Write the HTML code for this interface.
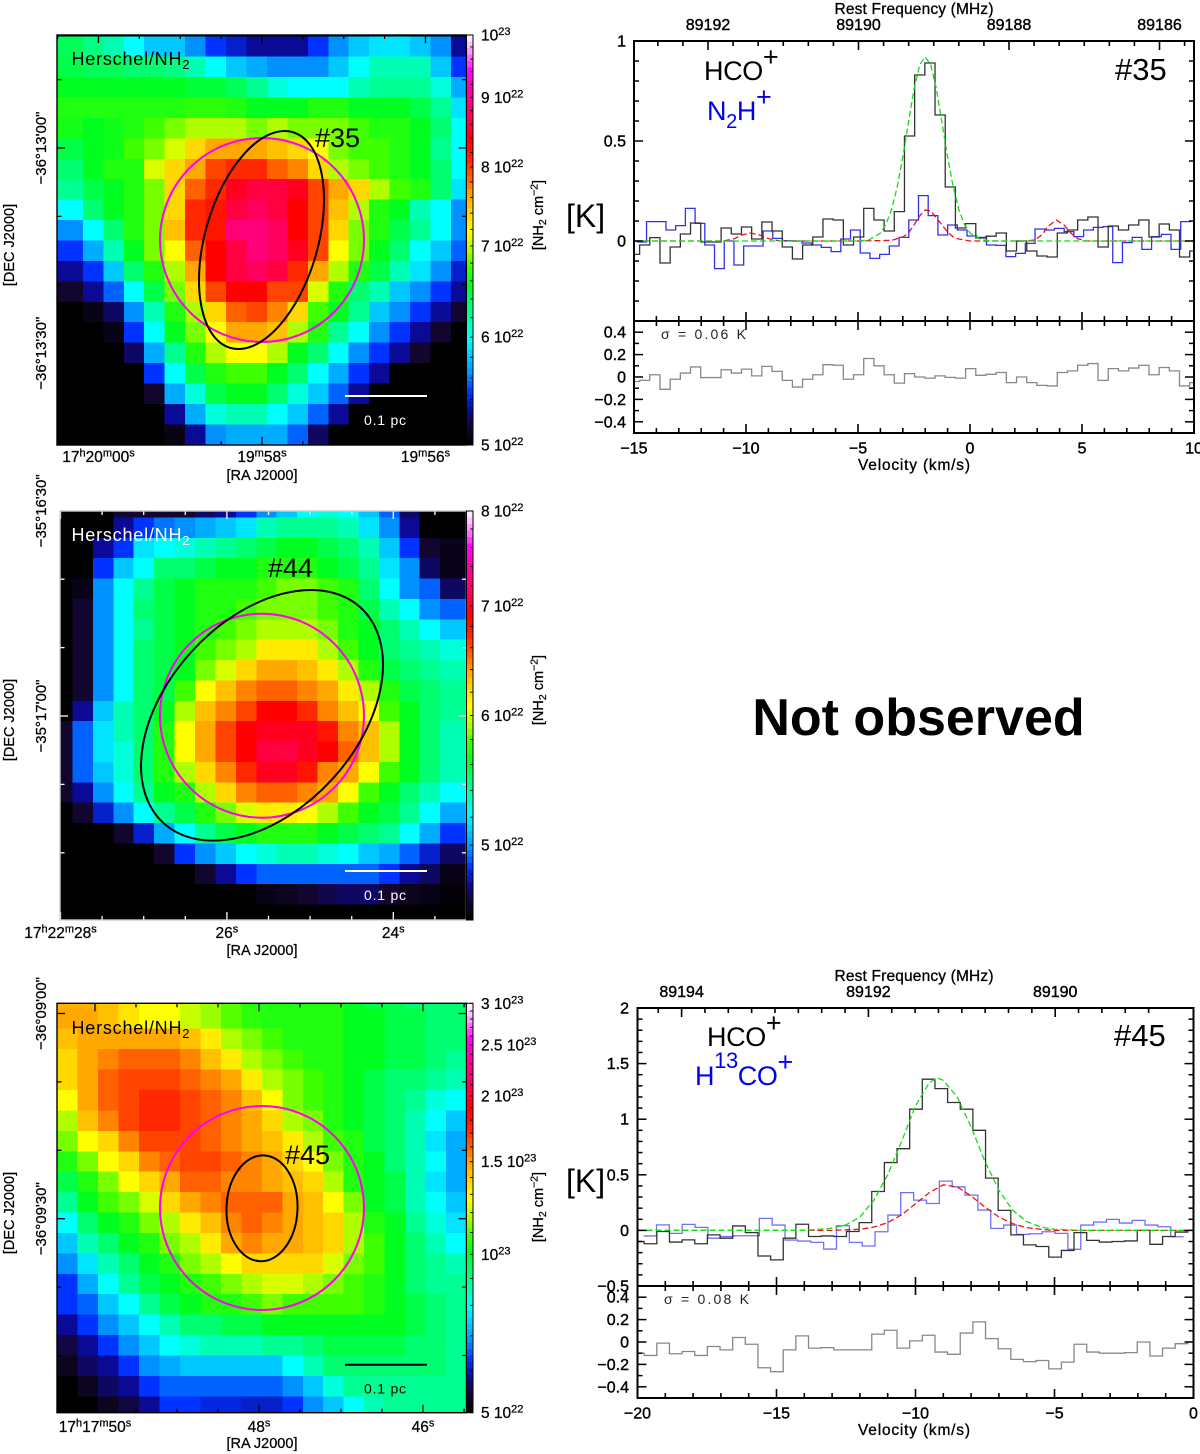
<!DOCTYPE html>
<html lang="en">
<head>
<meta charset="utf-8">
<title>Herschel NH2 maps and HCO+ spectra</title>
<style>
html,body{margin:0;padding:0;background:#fff}
svg{display:block;font-family:"Liberation Sans","DejaVu Sans",sans-serif;fill:#000;filter:blur(0.35px)}
</style>
</head>
<body>
<svg id="figure" xmlns="http://www.w3.org/2000/svg" width="1200" height="1454" viewBox="0 0 1200 1454">
<defs id="clips"></defs>
<g id="panel-35-map"></g>
<g id="panel-44-map"></g>
<g id="panel-45-map"></g>
<g id="panel-35-spec"></g>
<g id="panel-45-spec"></g>

<g>
<text x="704" y="80" font-size="27" letter-spacing="-0.4">HCO<tspan dy="-14">+</tspan></text>
<text x="707" y="120" font-size="27" letter-spacing="-0.4" fill="#0000ee">N<tspan dy="8" font-size="20">2</tspan><tspan dy="-8">H</tspan><tspan dy="-14">+</tspan></text>
<text x="1115" y="80" font-size="31">#35</text>
<text x="566" y="227" font-size="32">[K]</text>
<text x="661" y="339" font-size="14" textLength="85" fill="#222">σ = 0.06 K</text>
</g>
<g>
<text x="707" y="1046" font-size="27" letter-spacing="-0.4">HCO<tspan dy="-14">+</tspan></text>
<text x="695" y="1085" font-size="27" letter-spacing="-0.4" fill="#0000ee">H<tspan dy="-17" font-size="22">13</tspan><tspan dy="17">CO</tspan><tspan dy="-14">+</tspan></text>
<text x="1114" y="1046" font-size="31">#45</text>
<text x="566" y="1192" font-size="32">[K]</text>
<text x="664" y="1304" font-size="14" textLength="85" fill="#222">σ = 0.08 K</text>
</g>
<text x="918.5" y="735" font-size="52" font-weight="bold" text-anchor="middle">Not observed</text>
</svg>

<script>
// ---------- column density maps (colour levels, row by row, top to bottom) ----------
const map35Rows = [
[8.3,7.7,7,6,5,5,4,3,2.5,2,2,2,3,4,5,5.5,5.5,5,4,2],
[8.5,8.3,8.3,8,8,7.7,7,6,5,4.5,4,4,4,5,6,7,7,7,5,3],
[9,9,9,9,9,9,8.7,8.7,8.3,7.5,6.5,6,6,6,7,7.5,7.5,7.5,6.5,4.5],
[9.5,9.5,9.5,9.5,9.5,9.5,9.7,9.7,9.5,9,9,9,9.5,9.5,9,9,9,8.5,7.5,5.5],
[9.3,9,9.2,9.5,10,10.5,11,11,11,10.5,11,10.5,10.5,10.5,10,9.5,9.5,9,8,6],
[8.5,9,9.2,10,10.5,11.5,13,14,14,14,13.5,13,12,10.5,10,10,9.5,9,7.5,6],
[8,9,9.5,9.5,11.5,13,14,15.5,16,16,15,14.5,13,11,10.5,10,9.5,9,8,6],
[7.5,8.5,9,9.5,10.5,13,15,16,17.5,18,18,17.5,15.5,14,13,11,10,9.5,8,5.5],
[6,8,9,9.5,10.5,13,16,16.5,18,18.5,18,17,15.5,13.5,11,9.5,9,7,6,4],
[4,6,8,9.5,10.5,13.5,16,16.5,19,19,18.5,17,15.5,13,10.5,9.5,8.5,7.5,6,4],
[3,4.5,7,9,10.5,12,15,17,18,19,18.5,17.5,15.5,12,10.5,9,8,6,5,3.5],
[2,3,5,8,9.5,11,14,17,18,18.5,18,16,14,11,9.5,8.5,7,5.5,4,2.5],
[1,2,3.5,6,8.5,10.5,13,15.5,17,17,15.5,15.5,11.5,9.5,8,7,5,4,3,2],
[0,0.5,1.5,4,7,9.5,11,13,15,15.5,14.5,13,10,9,7.5,5,4,3,2,1],
[0,0,0.5,3,6,9,10.5,12,14,14,13.5,11,9.5,7.5,6,4,3,2,1,0],
[0,0,0,1.5,4.5,7.5,9.5,11,12,12,11,9,8,6,4,3,2,1,0,0],
[0,0,0,0,3,6,8.5,9.5,10,10,9,8,6,4.5,3,2,0,0,0,0],
[0,0,0,0,1,4.5,6.5,8.5,9,9,8,6.5,5,3.5,2,0,0,0,0,0],
[0,0,0,0,0,2,4.5,6.5,7,7,6,5,3.5,2,0,0,0,0,0,0],
[0,0,0,0,0,0.5,2,4,4.5,4.5,4.5,3.5,1.5,0,0,0,0,0,0,0]
];
const map44Rows = [
[0,0,0,1,1,1,1,1.5,2,3,4,5,6,6.5,6,5,3.5,1.5,0,0],
[0,0,0,2,3,3.7,4,4.5,5,5.5,7,7.5,7.5,7.5,7,5.5,4,2,0,0],
[0,0,2,3,5.5,6,6.5,7,7.5,8,8.5,9,9,8.5,8,7,5,3,1,0.5],
[0,0,3,5,6,8,8,8.5,9,9,9.5,9.5,9.5,9,8.5,7.5,5.5,4,1.5,0.5],
[0,0.5,4,6,7.5,8.5,9,9.5,9.5,9.5,10,10.5,10.5,10,9.5,8,6,4,3.5,1.5],
[0,1,4,6,8,8.5,9,9.5,9.5,10,10.5,10.5,10.5,10,9.5,8.5,7,6,4,3.5],
[0,1,4,6,7.5,8.5,9,9.5,10,10.5,11,11,11,10.5,9.5,9,8,7,6,5],
[0,1,4,6,8,8.5,9,10,10.5,11,12.5,12.5,12.5,11,10,9,8,7.5,7,6.5],
[0,1,4,6,8,8.5,9,10.5,11.5,13,14,14,13.5,12.5,11,9.5,8.5,8,7.5,7],
[0,1,4,6,8,8.5,10,12,13.5,14.5,15,15,14.5,14,12.5,11,9.5,8.5,8,7.5],
[0,2,5,7,8,9,11,13.5,14.5,15.5,17,17,16,14.5,13.5,12,10,9,8,7.5],
[1,3.5,5.5,7,8,9.5,12,14,15.5,17,17.5,17.5,17.5,16.5,14.5,13.5,11,9,8,7],
[1,3.5,5.5,6.5,8,9.5,12,14,15.5,17,18,18,17.5,17,15,13.5,11,9,8,7],
[1,3.5,5,6.5,8,9.5,11,13,14.5,16,17.5,17.5,16.5,14.5,14,12,10,9,8,7],
[1,2,4,6,7.5,9,9.5,11,13,14.5,15,15,14.5,14,12,10,9,8,7,6],
[0,1,2.5,4,6,7.5,8.5,9.5,10.5,11.5,12.5,12.5,12,11,10,9,8.5,7.5,6,4.5],
[0,0,0,1,2.5,4.5,6,7.5,8.5,9,9.5,9.5,9.5,9,8.5,8,7.5,6,4.5,3],
[0,0,0,0,0,1,3,4,5,6,6.5,7,7,6.5,6,5,4.5,3.5,2.5,1.5],
[0,0,0,0,0,0,0,1,2,3,3.5,3.5,3.5,3.5,3.5,3.5,3,2,1.5,0.5],
[0,0,0,0,0,0,0,0,0,0,0.5,0.7,1,1.3,1.5,1.5,1,0.7,0.5,0.2],
[0,0,0,0,0,0,0,0,0,0,0,0,0,0,0,0,0,0,0,0]
];
const map45Rows = [
[13.8,13.8,13.5,12.7,12,12,11.3,10.8,10.2,9.5,9.5,9.5,9.5,9.5,9,8.5,8.5,8,8,8],
[14,14,13.5,12.7,12,12,11.3,10.8,10.2,9.7,9.5,9.5,9.5,9.5,9,9,8.5,8.5,8,8],
[13.5,14,14,14,14,14,13.5,12.5,11,10.5,10,9.5,9.5,9.5,9,9,8.5,8.5,8,8],
[13,14,14.5,15,15,15,14.5,13.5,12.5,11,10.5,10,9.5,9.5,9,9,8.5,8.5,8,7.5],
[13,14,15,15.5,15.5,15.5,15,14.5,14,12.5,11,10.5,10,9.5,9,8.5,8,8,7.5,7],
[12,14,15,15.5,16,16,15.5,15,14.5,13.5,12,10.5,10,9.5,9,8.5,8,7.5,6.5,6],
[11,13.5,14.5,15.5,16,16,15.5,15,14.5,14,13,11,10.5,9.5,9,8.5,8,7,6,5],
[10.5,12,13,14.5,15.5,15.5,15.5,15,14.5,14,13.5,12.5,11,10,9.5,8.5,8,7,5.5,4.5],
[9.5,10.5,12,13,14.5,15,15.5,15.5,15,14.5,14,13,12,10.5,9.5,9,8,7,6,4.5],
[8.5,9.5,10.5,12,13,14,15,15,14.5,14.5,14,13.5,13,11,9.5,9,8.5,7,5.5,4.5],
[7.5,9,10,10.5,11.5,13,14,14.5,15,15,15,14,13.5,12,10.5,9,8.5,7,6,5],
[6,8,9,9.5,10.5,11,12.5,13.5,14.5,15,14.5,14,13.5,13,11,9.5,9,7.5,6.5,5.5],
[5,7,8,9,9.5,10.5,11,12.5,14,14.5,14,14,13.5,13,11,10,9,8,7,6],
[4,5.5,7,8,9,9.5,10.5,11,12,13,13,13,13,11.5,10.5,10,9,8,7.5,7],
[3,4.5,6,7.5,8.5,9,9.5,10,10.5,11,11.5,11.5,11,10.5,10,9.5,9,8,7.5,7.5],
[3,3.5,5,6,7.5,8.5,9,9.5,9.5,10,10.5,10,10,10,10,9.5,9,8.5,8,7.5],
[2,3,4,5,6,7,8,8,8.5,8.5,9,9,9,9,9,9,9,8.5,8,7.5],
[1.2,2,3,4,5,6,6.5,7,7,7,7.5,7.5,8,8.5,8.5,8.5,8.5,8,8,7.5],
[0.7,1.5,2,3,4,4.5,5,5,5,5,5,6,7,8,8,8,8,8,8,7.5],
[0,0.7,1.5,2,3,3.5,3.5,3.5,3.5,3.5,3.5,4,5,6.5,7.5,7.5,7.5,7.5,7.5,7.5],
[0,0,0.7,1.2,2,3,3,2.7,2.7,2.5,2.5,3,4,5,6,7,7.5,7.5,7.5,7.5]
];
const levelColors = ['#000000','#12062e','#0a0a96','#0033ff','#0090ff','#00c8ff','#00ffff','#00ffb4','#00ff70','#00ff20','#40ff00','#b0ff00','#ffff00','#ffd800','#ffa800','#ff6000','#ff2800','#ff0000','#ff0040','#ff0078','#ff00a8','#ff00ff','#ff90ff','#ffffff'];

// colour bar labels (units of 1e22 cm-2)
const cbar35Values = [5,6,7,8,9,10];
const cbar35Prefix = ['5 10','6 10','7 10','8 10','9 10','10'];
const cbar35Exp = ['22','22','22','22','22','23'];
const cbar44Values = [5,6,7,8];
const cbar44Prefix = ['5 10','6 10','7 10','8 10'];
const cbar44Exp = ['22','22','22','22'];
const cbar45Values = [5,10,15,20,25,30];
const cbar45Prefix = ['5 10','10','1.5 10','2 10','2.5 10','3 10'];
const cbar45Exp = ['22','23','23','23','23','23'];

// sky axes: RA seconds and Dec arcsecond offsets
const ra35Ticks = [60,58,56];
const ra35Labels = [['17','h','20','m','00','s'],['19','m','58','s'],['19','m','56','s']];
const ra44Ticks = [28,26,24];
const ra44Labels = [['17','h','22','m','28','s'],['26','s'],['24','s']];
const ra45Ticks = [50,48,46];
const ra45Labels = [['17','h','17','m','50','s'],['48','s'],['46','s']];
const dec35Ticks = [0,30];
const dec35Labels = ['−36°13\'00"','−36°13\'30"'];
const dec44Ticks = [-30,0];
const dec44Labels = ['−35°16\'30"','−35°17\'00"'];
const dec45Ticks = [-30,0];
const dec45Labels = ['−36°09\'00"','−36°09\'30"'];

// ---------- spectra, source 35 ----------
const hco35Values = [-.067,-.02,.017,-.11,-.03,.035,.09,-.005,-.005,.065,.035,.07,.01,.095,.05,-.03,-.09,-.02,.02,.11,.105,-.02,.02,.163,.105,.05,.147,.525,.83,.89,.63,.27,.065,.087,.015,.024,.04,-.05,0,-.05,-.075,-.08,.04,.055,.105,.12,-.03,.075,.055,.08,.105,.02,.085,.055,-.08,-.05];
const n2h35Values = [-.005,.097,.097,.055,.077,.163,.088,-.02,-.138,0,-.12,-.025,-.025,.05,.013,.002,0,-.01,-.02,-.032,-.053,.01,.055,-.06,-.087,-.067,-.025,.018,.105,.227,.127,.03,.08,.055,.025,.018,-.02,-.022,-.078,-.062,-.012,.06,.055,.063,.047,.022,.055,.068,.072,-.108,-.008,.018,-.042,.022,.033,-.042,.097];
const residual35Values = [-.04,-.03,.02,-.11,-.02,.035,.09,-.005,-.005,.065,.035,.07,.01,.095,.05,-.03,-.09,-.02,.02,.11,.105,-.02,.02,.165,.1,.02,-.055,.03,0,-.01,.01,-.003,-.01,.075,.015,.024,.04,-.05,0,-.05,-.075,-.08,.04,.055,.105,.12,-.03,.075,.055,.08,.105,.02,.085,.055,-.08,-.05];
const greenFit35V = [-15,-5,-4.5,-4,-3.75,-3.5,-3.25,-3,-2.75,-2.5,-2.25,-2,-1.75,-1.5,-1.25,-1,-.75,-.5,-.25,0,.5,1,10];
const greenFit35T = [0,0,.006,.04,.084,.158,.27,.42,.59,.76,.88,.92,.88,.76,.59,.42,.27,.158,.084,.04,.006,0,0];
const redFit35V = [-15,-11,-10.5,-10.2,-9.8,-9.4,-9,-8.5,-5,-3.5,-3,-2.75,-2.5,-2.25,-2,-1.75,-1.5,-1.25,-1,-.75,-.5,0,2.5,2.9,3.2,3.5,3.85,4.2,4.5,4.8,5.2,10];
const redFit35T = [0,0,.012,.03,.04,.03,.012,0,0,.003,.02,.04,.08,.125,.155,.15,.115,.08,.045,.02,.01,0,0,.005,.03,.075,.105,.08,.04,.012,0,0];
const vel35Labels = [-15,-10,-5,0,5,10];
const temp35Labels = [0,.5,1];
const freq35Labels = [89192,89190,89188,89186];

// ---------- spectra, source 45 ----------
const hco45Values = [-.1,-.12,-.01,-.105,-.085,-.12,-.04,-.07,.04,-.02,-.23,-.265,-.07,.055,-.055,-.05,-.055,-.01,.07,.35,.61,.735,1.09,1.36,1.275,1.15,1.09,.9,.47,.18,-.04,-.13,-.145,-.24,-.18,-.02,-.09,-.105,-.1,-.095,0,-.125,-.055,-.015,0];
const h13co45Values = [-.05,.05,-.027,.054,.027,-.07,-.055,-.048,-.048,.108,.048,-.087,-.096,-.108,-.168,.042,-.108,-.14,-.012,.138,.34,.272,.242,.443,.392,.317,.183,.018,.048,-.036,-.03,-.012,-.027,-.17,.048,.075,.099,.066,.09,.048,.033,-.057];
const residual45Values = [-.1,-.12,-.01,-.105,-.085,-.12,-.04,-.07,.04,-.02,-.23,-.265,-.07,.055,-.055,-.05,-.07,-.07,-.07,.07,.105,-.055,.01,.06,-.09,-.11,.08,.18,.03,-.06,-.155,-.175,-.165,-.24,-.18,-.02,-.09,-.1,-.1,-.095,0,-.125,-.055,-.015,0];
const greenFit45V = [-20,-14,-13,-12.5,-12,-11.5,-11,-10.5,-10,-9.5,-9.2,-9,-8.5,-8,-7.5,-7,-6.5,-6,-5.5,-5,-4,0];
const greenFit45T = [0,0,.02,.05,.12,.27,.5,.8,1.12,1.33,1.37,1.35,1.2,.93,.62,.36,.18,.08,.03,.01,0,0];
const redFit45V = [-20,-13,-12,-11.5,-11,-10.5,-10,-9.5,-9,-8.5,-8,-7.5,-7,-6.5,-6,-5.5,-5,0];
const redFit45T = [0,0,.01,.03,.07,.14,.24,.34,.41,.39,.31,.21,.12,.06,.025,.01,0,0];
const vel45Labels = [-20,-15,-10,-5,0];
const temp45Labels = [-.5,0,.5,1,1.5,2];
const freq45Labels = [89194,89192,89190];
const residualLabels = [-.4,-.2,0,.2,.4];

// ---------- helpers ----------
const NS = 'http://www.w3.org/2000/svg';
function make(tag, parent, attrs) {
  const el = document.createElementNS(NS, tag);
  for (const k in attrs) el.setAttribute(k, attrs[k]);
  parent.appendChild(el);
  return el;
}
function hexToRgb(h) { return [1,3,5].map(i => parseInt(h.substr(i,2),16)); }
function levelColor(l) {
  const lo = Math.max(0, Math.min(levelColors.length-1, Math.floor(l)));
  const hi = Math.min(levelColors.length-1, lo+1);
  const t = l-lo, a = hexToRgb(levelColors[lo]), b = hexToRgb(levelColors[hi]);
  return 'rgb(' + a.map((c,i) => Math.round(c+(b[i]-c)*t)).join(',') + ')';
}
function tickRange(a, b, step) {
  const out = [];
  const n = Math.round((b-a)/step);
  for (let i = 0; i <= n; i++) out.push(a+i*step);
  return out;
}
function fmt(v) {
  const s = String(Math.round(v*100)/100);
  return v < 0 ? '−' + s.slice(1) : s;
}
function stepPath(values, start, width, x, y) {
  let d = '';
  values.forEach((val, k) => {
    const yy = y(val).toFixed(2);
    d += (k ? 'L' : 'M') + x(start+k*width).toFixed(2) + ' ' + yy + 'L' + x(start+(k+1)*width).toFixed(2) + ' ' + yy;
  });
  return d;
}
function linePath(vs, ts, x, y) {
  return vs.map((v,i) => (i ? 'L' : 'M') + x(v).toFixed(2) + ' ' + y(ts[i]).toFixed(2)).join('');
}
function addSuperscripts(textEl, parts) {
  parts.forEach((part, i) => {
    const sup = i % 2 === 1;
    const span = make('tspan', textEl, { 'font-size': sup ? 11 : 15.5, dy: sup ? -5.5 : (i ? 5.5 : 0) });
    span.textContent = part;
  });
}

// ---------- map panel ----------
function drawMap(c) {
  const g = document.getElementById(c.id);
  const clip = make('clipPath', document.getElementById('clips'), { id: c.id + '-clip' });
  make('rect', clip, { x: c.left, y: c.top, width: c.right-c.left, height: c.bottom-c.top });

  const bg = make('rect', g, { x: c.left, y: c.top, width: c.right-c.left, height: c.bottom-c.top, fill: '#000' });
  
  

  const cells = make('g', g, { 'clip-path': 'url(#' + c.id + '-clip)', 'shape-rendering': 'crispEdges' });
  
  
  const nCols = c.rows[0].length, nRows = c.rows.length;
  c.rows.forEach((row, r) => row.forEach((level, q) => {
    const x0 = q === 0 ? c.left-2 : c.gridLeft+q*c.cw;
    const x1 = q === nCols-1 ? c.right+2 : c.gridLeft+(q+1)*c.cw;
    const y0 = c.gridTop+r*c.ch;
    const y1 = r === nRows-1 ? c.bottom+2 : y0+c.ch;
    const cell = make('rect', cells, { x: x0.toFixed(2), y: y0.toFixed(2), width: (x1-x0+0.4).toFixed(2), height: (y1-y0+0.4).toFixed(2), fill: levelColor(level) });
    
    
  }));

  // sky axes
  const raX = s => c.raX0 + (c.raS0-s)*c.raPx;
  const decY = a => c.decY0 + a*c.decPx;
  const tickColor = c.tickColor;
  tickRange(c.raMinor[0], c.raMinor[1], 0.5).forEach(s => {
    const x = raX(s);
    if (x < c.left || x > c.right) return;
    const len = Math.abs(s/2-Math.round(s/2)) < 1e-6 ? 8 : 4;
    [[c.bottom,c.bottom-len],[c.top,c.top+len]].forEach(p => {
      const t = make('line', g, { x1: x, x2: x, y1: p[0], y2: p[1], stroke: tickColor, 'stroke-width': 1.3 });
      
      
    });
  });
  tickRange(c.decMinor[0], c.decMinor[1], 10).forEach(a => {
    const y = decY(a);
    if (y < c.top || y > c.bottom) return;
    const len = Math.abs(a/30-Math.round(a/30)) < 1e-6 ? 8 : 4.5;
    [[c.left,c.left+len],[c.right,c.right-len]].forEach(p => {
      const t = make('line', g, { x1: p[0], x2: p[1], y1: y, y2: y, stroke: tickColor, 'stroke-width': 1.3 });
      
      
    });
  });
  const frame = make('rect', g, { x: c.left, y: c.top, width: c.right-c.left, height: c.bottom-c.top, fill: 'none', stroke: c.frameColor, 'stroke-width': 1.4 });
  
  

  c.raTicks.forEach((s, i) => {
    const label = make('text', g, { x: raX(s), y: c.raLabelY, 'text-anchor': 'middle', stroke: '#000', 'stroke-width': 0.25 });
    
    
    addSuperscripts(label, c.raLabels[i]);
  });
  c.decTicks.forEach((a, i) => {
    const y = decY(a);
    const label = make('text', g, { x: 46, y: y, 'font-size': 15, 'text-anchor': 'middle', stroke: '#000', 'stroke-width': 0.25, transform: 'rotate(-90 46 ' + y + ')' });
    
    
    label.textContent = c.decLabels[i];
  });
  const raTitle = make('text', g, { x: 262, y: c.raTitleY, 'font-size': 14.5, 'text-anchor': 'middle', stroke: '#000', 'stroke-width': 0.25 });
  
  
  raTitle.textContent = '[RA J2000]';
  const decTitle = make('text', g, { x: 14, y: c.decTitleY, 'font-size': 14.5, 'text-anchor': 'middle', stroke: '#000', 'stroke-width': 0.25, transform: 'rotate(-90 14 ' + c.decTitleY + ')' });
  
  
  decTitle.textContent = '[DEC J2000]';

  // colour bar
  const barY = v => c.top + (c.bottom-c.top)*Math.log(c.vMax/v)/Math.log(c.vMax/c.vMin);
  const nBands = 64;
  for (let i = 0; i < nBands; i++) {
    const h = (c.bottom-c.top)/nBands;
    const band = make('rect', g, { x: c.right, y: (c.bottom-(i+1)*h).toFixed(2), width: 6.5, height: (h+0.3).toFixed(2), fill: levelColor((i+0.5)/nBands*23), 'shape-rendering': 'crispEdges' });
    
    
  }
  const barFrame = make('rect', g, { x: c.right, y: c.top, width: 6.5, height: c.bottom-c.top, fill: 'none', stroke: '#000', 'stroke-width': 1 });
  
  
  tickRange(c.vMinorStart, c.vMax, c.vMinorStep).forEach(v => {
    const t = make('line', g, { x1: c.right+6.5, x2: c.right+3.5, y1: barY(v), y2: barY(v), stroke: '#000', 'stroke-width': 0.9 });
    
    
  });
  c.barValues.forEach((v, i) => {
    const label = make('text', g, { x: 481, y: barY(v)+5.5, stroke: '#000', 'stroke-width': 0.25 });
    
    
    addSuperscripts(label, [c.barPrefix[i], c.barExp[i]]);
  });
  const barTitle = make('text', g, { x: 543, y: c.barTitleY, 'font-size': 14.5, 'text-anchor': 'middle', stroke: '#000', 'stroke-width': 0.25, transform: 'rotate(-90 543 ' + c.barTitleY + ')' });
  
  
  barTitle.textContent = '[NH';
  const sub = make('tspan', barTitle, { 'font-size': 10.5, dy: 3 });
  sub.textContent = '2';
  const cm = make('tspan', barTitle, { dy: -3 });
  cm.textContent = ' cm';
  const exp = make('tspan', barTitle, { 'font-size': 10.5, dy: -5.5 });
  exp.textContent = '−2';
  const close = make('tspan', barTitle, { dy: 5.5 });
  close.textContent = ']';

  // overlays
  const circle = make('circle', g, { cx: 262, cy: c.circleY, r: 102, fill: 'none', stroke: '#ff00f0', 'stroke-width': 2 });
  
  
  const ell = make('ellipse', g, { cx: c.ell[0], cy: c.ell[1], rx: c.ell[2], ry: c.ell[3], fill: 'none', stroke: '#000', 'stroke-width': 2, transform: 'rotate(' + c.ell[4] + ' ' + c.ell[0] + ' ' + c.ell[1] + ')' });
  
  

  const ident = make('text', g, { x: c.idPos[0], y: c.idPos[1], 'font-size': 27 });
  
  
  ident.textContent = c.idText;

  const title = make('text', g, { x: 71.5, y: c.titleY, 'font-size': 18, fill: c.titleColor, textLength: 118 });
  
  
  title.textContent = 'Herschel/NH';
  const titleSub = make('tspan', title, { 'font-size': 13, dy: 4 });
  titleSub.textContent = '2';

  const bar = make('line', g, { x1: 345, x2: 427, y1: c.scaleY, y2: c.scaleY, stroke: c.scaleColor, 'stroke-width': 2 });
  
  
  const barText = make('text', g, { x: 385, y: c.scaleY+29, 'font-size': 14, 'text-anchor': 'middle', fill: c.scaleColor, textLength: 42 });
  
  
  barText.textContent = '0.1 pc';
}

// ---------- spectrum panel ----------
function drawSpectrum(c) {
  const g = document.getElementById(c.id);
  const x = v => c.left + (v-c.vMin)*(c.right-c.left)/(c.vMax-c.vMin);
  const yUp = t => c.top + (c.tTop-t)*(c.split-c.top)/(c.tTop-c.tBot);
  const yLow = r => c.split + (0.5-r)*(c.bottom-c.split);
  const fx = f => c.freqX0 + (c.freqF0-f)*c.freqPx;

  const clipClips = document.getElementById('clips');
  const upClip = make('clipPath', clipClips, { id: c.id + '-up' });
  make('rect', upClip, { x: c.left, y: c.top, width: c.right-c.left, height: c.split-c.top });
  const lowClip = make('clipPath', clipClips, { id: c.id + '-low' });
  make('rect', lowClip, { x: c.left, y: c.split, width: c.right-c.left, height: c.bottom-c.split });

  const up = make('g', g, { 'clip-path': 'url(#' + c.id + '-up)', fill: 'none' });
  
  
  const second = make('path', up, { d: stepPath(c.secondValues, c.secondStart, c.secondWidth, x, yUp), stroke: c.secondColor, 'stroke-width': 1.3 });
  
  
  const hco = make('path', up, { d: stepPath(c.hcoValues, c.hcoStart, c.hcoWidth, x, yUp), stroke: '#333', 'stroke-width': 1.3 });
  
  
  const red = make('path', up, { d: linePath(c.redV, c.redT, x, yUp), stroke: '#f01010', 'stroke-width': 1.3, 'stroke-dasharray': '6 3' });
  
  
  const green = make('path', up, { d: linePath(c.greenV, c.greenT, x, yUp), stroke: '#10e010', 'stroke-width': 1.3, 'stroke-dasharray': '6 3' });
  
  

  const low = make('g', g, { 'clip-path': 'url(#' + c.id + '-low)', fill: 'none' });
  
  
  const res = make('path', low, { d: stepPath(c.residualValues, c.hcoStart, c.hcoWidth, x, yLow), stroke: '#888', 'stroke-width': 1.3 });
  
  

  // frames
  [[c.top,c.split],[c.split,c.bottom]].forEach(p => {
    const f = make('rect', g, { x: c.left, y: p[0], width: c.right-c.left, height: p[1]-p[0], fill: 'none', stroke: '#000', 'stroke-width': 2 });
    
    
  });

  // velocity ticks
  tickRange(c.vMin, c.vMax, 1).forEach(v => {
    const major = Math.abs(v/5-Math.round(v/5)) < 1e-6;
    const len = major ? 9 : 5;
    [[c.split,c.split-len],[c.split,c.split+len],[c.bottom,c.bottom-len]].forEach(p => {
      const t = make('line', g, { x1: x(v), x2: x(v), y1: p[0], y2: p[1], stroke: '#000', 'stroke-width': 1.6 });
      
      
    });
  });
  // frequency ticks
  tickRange(c.freqMin, c.freqMax, c.freqMinor).forEach(f => {
    const px = fx(f);
    if (px < c.left || px > c.right) return;
    const major = Math.abs(f/2-Math.round(f/2)) < 1e-6;
    const t = make('line', g, { x1: px, x2: px, y1: c.top, y2: c.top+(major ? 9 : 5), stroke: '#000', 'stroke-width': 1.6 });
    
    
  });
  // temperature ticks
  tickRange(c.tBot, c.tTop, 0.1).forEach(t0 => {
    const major = Math.abs(t0/0.5-Math.round(t0/0.5)) < 1e-6;
    const len = major ? 9 : 5;
    [[c.left,c.left+len],[c.right,c.right-len]].forEach(p => {
      const t = make('line', g, { x1: p[0], x2: p[1], y1: yUp(t0), y2: yUp(t0), stroke: '#000', 'stroke-width': 1.5 });
      
      
    });
  });
  tickRange(-0.5, 0.5, 0.1).forEach(r0 => {
    const major = Math.abs(r0/0.2-Math.round(r0/0.2)) < 1e-6;
    const len = major ? 9 : 5;
    [[c.left,c.left+len],[c.right,c.right-len]].forEach(p => {
      const t = make('line', g, { x1: p[0], x2: p[1], y1: yLow(r0), y2: yLow(r0), stroke: '#000', 'stroke-width': 1.5 });
      
      
    });
  });

  // labels
  c.velLabels.forEach(v => {
    const l = make('text', g, { x: x(v), y: c.bottom+20.5, 'font-size': 16, 'text-anchor': 'middle', stroke: '#000', 'stroke-width': 0.4 });
    
    
    l.textContent = fmt(v);
  });
  c.freqLabels.forEach(f => {
    const l = make('text', g, { x: fx(f), y: c.top-11, 'font-size': 16, 'text-anchor': 'middle', stroke: '#000', 'stroke-width': 0.4 });
    
    
    l.textContent = f;
  });
  c.tempLabels.forEach(t0 => {
    const l = make('text', g, { x: c.labelRight, y: yUp(t0)+5.5, 'font-size': 16, 'text-anchor': 'end', stroke: '#000', 'stroke-width': 0.4 });
    
    
    l.textContent = fmt(t0);
  });
  residualLabels.forEach(r0 => {
    const l = make('text', g, { x: c.labelRight, y: yLow(r0)+5.5, 'font-size': 16, 'text-anchor': 'end', stroke: '#000', 'stroke-width': 0.4 });
    
    
    l.textContent = fmt(r0);
  });
  const velTitle = make('text', g, { x: 914, y: c.bottom+37, 'font-size': 15.5, 'text-anchor': 'middle', textLength: 112, stroke: '#000', 'stroke-width': 0.3 });
  
  
  velTitle.textContent = 'Velocity (km/s)';
  const freqTitle = make('text', g, { x: 914, y: c.top-27, 'font-size': 15.5, 'text-anchor': 'middle', textLength: 159, stroke: '#000', 'stroke-width': 0.3 });
  
  
  freqTitle.textContent = 'Rest Frequency (MHz)';
}

drawMap({
  id: 'panel-35-map', rows: map35Rows, left: 57, right: 466.5, top: 35, bottom: 445,
  gridLeft: 62.4, gridTop: 36.3, cw: 20.45, ch: 20.42,
  raX0: 262, raS0: 58, raPx: 81.75, raMinor: [55, 61], raTicks: ra35Ticks, raLabels: ra35Labels, raLabelY: 462, raTitleY: 480,
  decY0: 148, decPx: 6.84, decMinor: [-20, 50], decTicks: dec35Ticks, decLabels: dec35Labels, decTitleY: 245,
  tickColor: '#000', frameColor: '#000',
  vMin: 5, vMax: 10, vMinorStart: 5, vMinorStep: 0.2, barValues: cbar35Values, barPrefix: cbar35Prefix, barExp: cbar35Exp, barTitleY: 215,
  circleY: 240, ell: [261.5, 240, 56.4, 112.3, 16.1], idPos: [315, 147], idText: '#35',
  titleY: 65, titleColor: '#000', scaleY: 396, scaleColor: '#fff'
});
drawMap({
  id: 'panel-44-map', rows: map44Rows, left: 60, right: 466.5, top: 511, bottom: 920,
  gridLeft: 52, gridTop: 497, cw: 20.43, ch: 20.38,
  raX0: 60.5, raS0: 28, raPx: 83.2, raMinor: [23, 28.5], raTicks: ra44Ticks, raLabels: ra44Labels, raLabelY: 938, raTitleY: 955,
  decY0: 716, decPx: 6.84, decMinor: [-30, 30], decTicks: dec44Ticks, decLabels: dec44Labels, decTitleY: 720,
  tickColor: '#fff', frameColor: '#ccc',
  vMin: 4.5, vMax: 8, vMinorStart: 4.6, vMinorStep: 0.2, barValues: cbar44Values, barPrefix: cbar44Prefix, barExp: cbar44Exp, barTitleY: 690,
  circleY: 715.7, ell: [262, 715.3, 95, 146, 42.5], idPos: [268, 577], idText: '#44',
  titleY: 541, titleColor: '#fff', scaleY: 871, scaleColor: '#fff'
});
drawMap({
  id: 'panel-45-map', rows: map45Rows, left: 57, right: 466.5, top: 1003.3, bottom: 1412.7,
  gridLeft: 57, gridTop: 987.9, cw: 20.48, ch: 20.42,
  raX0: 259, raS0: 48, raPx: 82, raMinor: [45, 51], raTicks: ra45Ticks, raLabels: ra45Labels, raLabelY: 1432, raTitleY: 1448,
  decY0: 1218.7, decPx: 6.84, decMinor: [-30, 30], decTicks: dec45Ticks, decLabels: dec45Labels, decTitleY: 1213,
  tickColor: '#000', frameColor: '#000',
  vMin: 5, vMax: 30, vMinorStart: 5, vMinorStep: 1, barValues: cbar45Values, barPrefix: cbar45Prefix, barExp: cbar45Exp, barTitleY: 1207,
  circleY: 1208, ell: [262, 1208.3, 35.5, 53, 2], idPos: [285, 1164], idText: '#45',
  titleY: 1034, titleColor: '#000', scaleY: 1364.7, scaleColor: '#000'
});

drawSpectrum({
  id: 'panel-35-spec', left: 634, right: 1194, top: 41, split: 321, bottom: 433,
  vMin: -15, vMax: 10, tTop: 1, tBot: -0.4, labelRight: 626,
  hcoValues: hco35Values, hcoStart: -15.205, hcoWidth: 0.4548,
  secondValues: n2h35Values, secondStart: -14.874, secondWidth: 0.4336, secondColor: '#3030f0',
  residualValues: residual35Values,
  greenV: greenFit35V, greenT: greenFit35T, redV: redFit35V, redT: redFit35T,
  velLabels: vel35Labels, tempLabels: temp35Labels, freqLabels: freq35Labels,
  freqX0: 708, freqF0: 89192, freqPx: 75.25, freqMin: 89185, freqMax: 89193, freqMinor: 1/3
});
drawSpectrum({
  id: 'panel-45-spec', left: 637.5, right: 1193.5, top: 1008, split: 1286, bottom: 1398,
  vMin: -20, vMax: 0, tTop: 2, tBot: -0.5, labelRight: 629,
  hcoValues: hco45Values, hcoStart: -20.215, hcoWidth: 0.4548,
  secondValues: h13co45Values, secondStart: -19.78, secondWidth: 0.4625, secondColor: '#7070f8',
  residualValues: residual45Values,
  greenV: greenFit45V, greenT: greenFit45T, redV: redFit45V, redT: redFit45T,
  velLabels: vel45Labels, tempLabels: temp45Labels, freqLabels: freq45Labels,
  freqX0: 681.6, freqF0: 89194, freqPx: 93.4, freqMin: 89189, freqMax: 89195, freqMinor: 0.25
});
</script>
</body>
</html>
